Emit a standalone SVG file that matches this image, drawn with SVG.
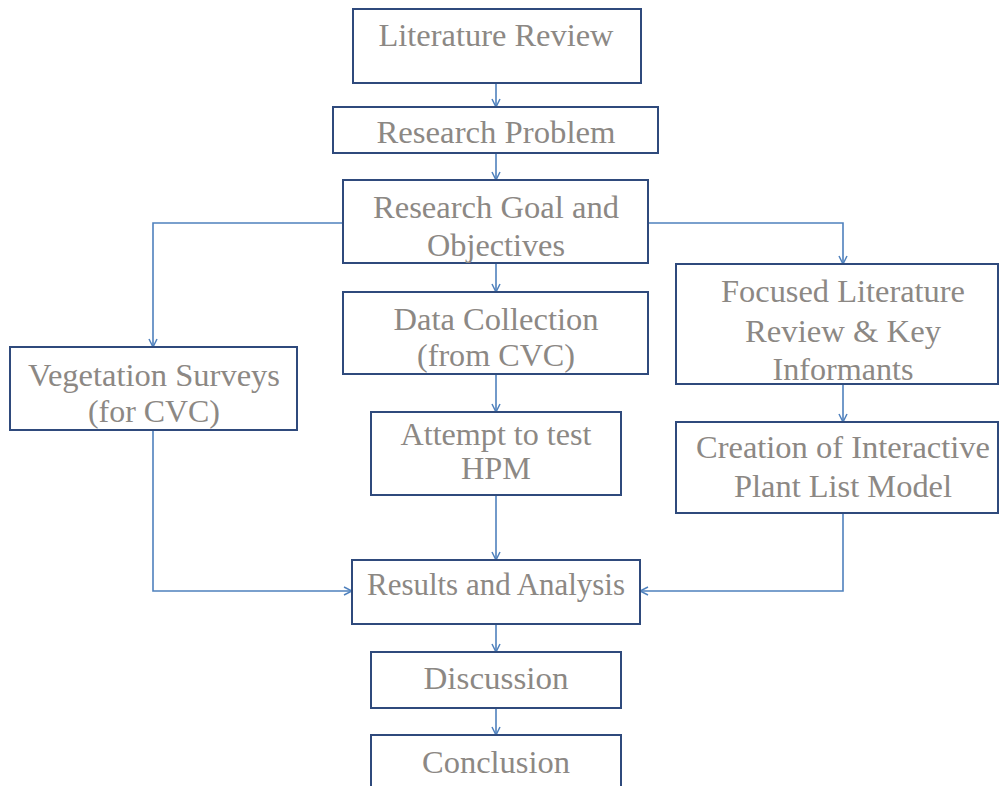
<svg xmlns="http://www.w3.org/2000/svg" width="1000" height="786" viewBox="0 0 1000 786">
<style>
.box{fill:#fff;stroke:#2f4a7c;stroke-width:2}
.t{font-family:'Liberation Serif','DejaVu Serif','Times New Roman',Times,serif;font-size:31px;fill:#8c8884;text-anchor:middle}
.c{fill:none;stroke:#4f81bd;stroke-width:1.6}
</style>
<defs>
<marker id="ah" viewBox="0 0 10 10" refX="9" refY="5" markerWidth="10" markerHeight="10" markerUnits="userSpaceOnUse" orient="auto">
<path d="M1,1 L9,5 L1,9" fill="none" stroke="#4f81bd" stroke-width="1.5"/>
</marker>
</defs>
<rect width="1000" height="786" fill="#fff"/>
<g id="connectors">
<path class="c" d="M496,83 V107" marker-end="url(#ah)"/>
<path class="c" d="M496,153 V180" marker-end="url(#ah)"/>
<path class="c" d="M496,263 V292" marker-end="url(#ah)"/>
<path class="c" d="M496,374 V412" marker-end="url(#ah)"/>
<path class="c" d="M496,495 V560" marker-end="url(#ah)"/>
<path class="c" d="M496,624 V652" marker-end="url(#ah)"/>
<path class="c" d="M496,708 V735" marker-end="url(#ah)"/>
<path class="c" d="M343,223 H153 V347" marker-end="url(#ah)"/>
<path class="c" d="M648,223 H843 V264" marker-end="url(#ah)"/>
<path class="c" d="M843,384 V422" marker-end="url(#ah)"/>
<path class="c" d="M153,430 V591 H352" marker-end="url(#ah)"/>
<path class="c" d="M843,513 V591 H640" marker-end="url(#ah)"/>
</g>
<g id="literature-review">
<rect class="box" x="353" y="9" width="288" height="74"/>
<text class="t" font-family="Liberation Serif, serif" x="496" y="46" textLength="235" lengthAdjust="spacingAndGlyphs">Literature Review</text>
</g>
<g id="research-problem">
<rect class="box" x="333" y="107" width="325" height="46"/>
<text class="t" x="496" y="143" textLength="239" lengthAdjust="spacingAndGlyphs">Research Problem</text>
</g>
<g id="research-goal">
<rect class="box" x="343" y="180" width="305" height="83"/>
<text class="t" x="496" y="218" textLength="246" lengthAdjust="spacingAndGlyphs">Research Goal and</text>
<text class="t" x="496" y="256" textLength="138" lengthAdjust="spacingAndGlyphs">Objectives</text>
</g>
<g id="data-collection">
<rect class="box" x="343" y="292" width="305" height="82"/>
<text class="t" x="496" y="330" textLength="205" lengthAdjust="spacingAndGlyphs">Data Collection</text>
<text class="t" x="496" y="366" textLength="158" lengthAdjust="spacingAndGlyphs">(from CVC)</text>
</g>
<g id="vegetation-surveys">
<rect class="box" x="10" y="347" width="287" height="83"/>
<text class="t" x="154" y="386" textLength="252" lengthAdjust="spacingAndGlyphs">Vegetation Surveys</text>
<text class="t" x="154" y="422" textLength="132" lengthAdjust="spacingAndGlyphs">(for CVC)</text>
</g>
<g id="attempt-hpm">
<rect class="box" x="371" y="412" width="250" height="83"/>
<text class="t" x="496" y="445" textLength="191" lengthAdjust="spacingAndGlyphs">Attempt to test</text>
<text class="t" x="496" y="479" textLength="70" lengthAdjust="spacingAndGlyphs">HPM</text>
</g>
<g id="focused-literature">
<rect class="box" x="676" y="264" width="322" height="120"/>
<text class="t" x="843" y="302" textLength="244" lengthAdjust="spacingAndGlyphs">Focused Literature</text>
<text class="t" x="843" y="342" textLength="196" lengthAdjust="spacingAndGlyphs">Review &amp; Key</text>
<text class="t" x="843" y="380" textLength="141" lengthAdjust="spacingAndGlyphs">Informants</text>
</g>
<g id="plant-list-model">
<rect class="box" x="676" y="422" width="322" height="91"/>
<text class="t" x="843" y="458" textLength="294" lengthAdjust="spacingAndGlyphs">Creation of Interactive</text>
<text class="t" x="843" y="497" textLength="218" lengthAdjust="spacingAndGlyphs">Plant List Model</text>
</g>
<g id="results-analysis">
<rect class="box" x="352" y="560" width="288" height="64"/>
<text class="t" x="496" y="595" textLength="258" lengthAdjust="spacingAndGlyphs">Results and Analysis</text>
</g>
<g id="discussion">
<rect class="box" x="371" y="652" width="250" height="56"/>
<text class="t" x="496" y="689" textLength="145" lengthAdjust="spacingAndGlyphs">Discussion</text>
</g>
<g id="conclusion">
<rect class="box" x="371" y="735" width="250" height="60"/>
<text class="t" x="496" y="773" textLength="148" lengthAdjust="spacingAndGlyphs">Conclusion</text>
</g>
</svg>
